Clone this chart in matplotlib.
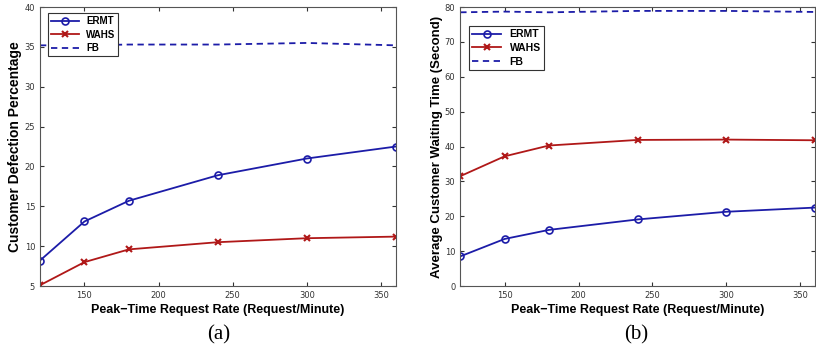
import numpy as np
import matplotlib
matplotlib.use("Agg")
from matplotlib import pyplot as plt

# Peak-time request rates (request/minute)
rates = [120, 150, 180, 240, 300, 360]

# (a) customer defection percentage
defect_ermt = [8.2, 13.1, 15.7, 18.9, 21.0, 22.5]
defect_wahs = [5.1, 8.0, 9.6, 10.5, 11.0, 11.2]
defect_fb = [35.2, 35.2, 35.3, 35.3, 35.5, 35.2]

# (b) average customer waiting time (second)
wait_ermt = [8.5, 13.5, 16.1, 19.1, 21.3, 22.5]
wait_wahs = [31.5, 37.2, 40.3, 41.9, 42.0, 41.8]
wait_fb = [78.5, 78.7, 78.5, 78.9, 78.9, 78.6]

xticks = [150, 200, 250, 300, 350]

blue = "#1c1ca8"
red = "#b01818"

fig = plt.figure(figsize=(8.16, 3.54), dpi=100)
ax1 = fig.add_axes([0.049, 0.192, 0.436, 0.788])
ax2 = fig.add_axes([0.564, 0.192, 0.435, 0.788])


def draw(ax, ermt, wahs, fb, ylim, yticks, ylabel, ysize, leg_anchor, leg_size):
    ax.plot(rates, ermt, color=blue, marker="o", markersize=5, markerfacecolor="none",
            markeredgewidth=1.2, linewidth=1.3, label="ERMT")
    ax.plot(rates, wahs, color=red, marker="x", markersize=4, markeredgewidth=1.5,
            linewidth=1.3, label="WAHS")
    ax.plot(rates, fb, color=blue, linestyle=(0, (3.5, 2.5)), linewidth=1.3, label="FB")
    ax.set_xlim(120, 360)
    ax.set_ylim(*ylim)
    ax.set_xticks(xticks)
    ax.set_yticks(yticks)
    ax.tick_params(direction="in", top=True, right=True, labelsize=6, length=3,
                   colors="#333333", labelcolor="#333333")
    for s in ax.spines.values():
        s.set_color("#555555")
        s.set_linewidth(0.8)
    ax.set_xlabel("Peak\u2212Time Request Rate (Request/Minute)", family="Liberation Sans",
                  weight="bold", size=9, labelpad=3)
    ax.set_ylabel(ylabel, family="Liberation Sans", weight="bold", size=ysize, labelpad=1.5)
    leg = ax.legend(loc="upper left", bbox_to_anchor=leg_anchor, fancybox=False,
                    edgecolor="#333333", framealpha=1, handlelength=2.8,
                    prop={"family": "Liberation Sans", "weight": "bold", "size": leg_size},
                    borderpad=0.3, labelspacing=0.35)
    leg.get_frame().set_linewidth(0.8)


draw(ax1, defect_ermt, defect_wahs, defect_fb, (5, 40), np.arange(5, 41, 5),
     "Customer Defection Percentage", 10, (0.01, 0.995), 7)
draw(ax2, wait_ermt, wait_wahs, wait_fb, (0, 80), np.arange(0, 81, 10),
     "Average Customer Waiting Time (Second)", 9.5, (0.01, 0.95), 7.5)

fig.text(0.268, 0.04, "(a)", fontsize=15, family="Liberation Serif", ha="center")
fig.text(0.78, 0.04, "(b)", fontsize=15, family="Liberation Serif", ha="center")

fig.savefig("out.png", dpi=100)
